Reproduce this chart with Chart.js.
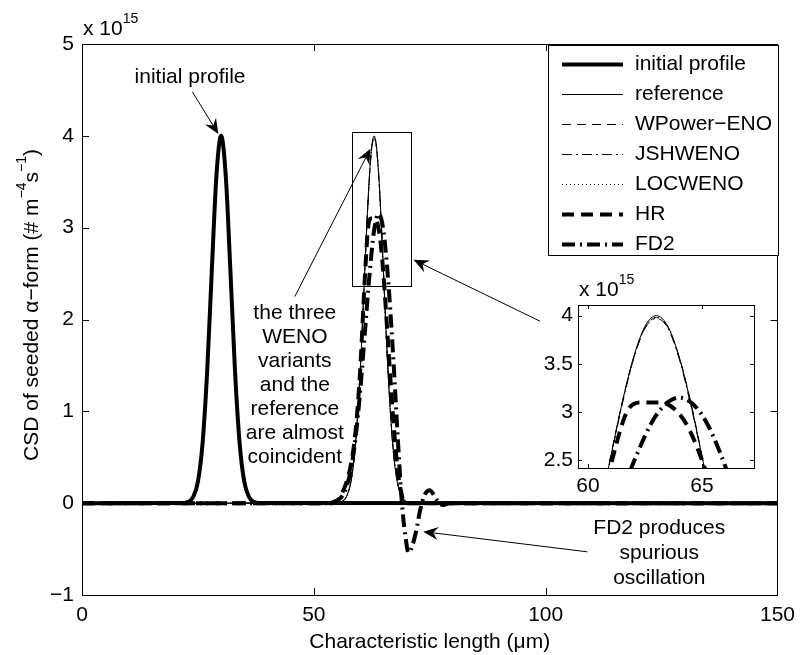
<!DOCTYPE html>
<html>
<head>
<meta charset="utf-8">
<script src="https://cdn.jsdelivr.net/npm/chart.js@4.4.0/dist/chart.umd.min.js"></script>
<style>
  html, body { margin: 0; padding: 0; background: #fff; }
  #wrap { position: relative; width: 803px; height: 655px; }
  #mainChart { position: absolute; left: 0; top: 0; }
  #insetChart { position: absolute; left: 540px; top: 270px; background: #fff; }
</style>
</head>
<body>
<div id="wrap">
  <canvas id="mainChart" width="803" height="655"></canvas>
  <canvas id="insetChart" width="230" height="225"></canvas>
</div>
<script>
// CSD values are in units of 1e15 (# m^-4 s^-1), x in micrometres
const xTicks = [0, 50, 100, 150];
const yTicks = [-1, 0, 1, 2, 3, 4, 5];
const insetXTicks = [60, 65];
const insetYTicks = [2.5, 3, 3.5, 4];

const seriesNames = ['initial profile', 'reference', 'WPower\u2212ENO', 'JSHWENO', 'LOCWENO', 'HR', 'FD2'];

const xInit = [0, 22, 23, 24, 25, 26, 27, 28, 29, 30, 31, 32, 33, 34, 35, 36, 37, 38, 150];
const yInit = [0, 0.003, 0.015, 0.07, 0.235, 0.65, 1.44, 2.54, 3.57, 4.0, 3.57, 2.54, 1.44, 0.65, 0.235, 0.07, 0.015, 0.003, 0];

// shared grid for the reference and the three WENO variants
const xPeak = [0, 54, 55, 56, 57, 58, 59, 60, 60.5, 61, 61.5, 62, 62.5, 63, 63.5, 64, 64.5, 65, 65.5, 66, 67, 68, 69, 70, 71, 72, 150];
const yRef = [0, 0, 0.003, 0.015, 0.07, 0.235, 0.65, 1.44, 1.97, 2.54, 3.10, 3.57, 3.89, 4.0, 3.89, 3.57, 3.10, 2.54, 1.97, 1.44, 0.65, 0.235, 0.07, 0.015, 0.003, 0, 0];
const yWPower = [0, 0, 0.004, 0.018, 0.075, 0.24, 0.66, 1.45, 1.98, 2.55, 3.10, 3.56, 3.87, 3.98, 3.88, 3.57, 3.11, 2.55, 1.98, 1.45, 0.66, 0.24, 0.075, 0.018, 0.004, 0, 0];
const yJSH = [0, 0, 0.002, 0.012, 0.065, 0.23, 0.64, 1.43, 1.96, 2.53, 3.08, 3.55, 3.87, 3.97, 3.87, 3.55, 3.08, 2.53, 1.96, 1.43, 0.64, 0.23, 0.065, 0.012, 0.002, 0, 0];
const yLOC = [0, 0, 0.003, 0.014, 0.068, 0.232, 0.645, 1.44, 1.97, 2.54, 3.09, 3.56, 3.88, 3.985, 3.885, 3.56, 3.09, 2.54, 1.97, 1.44, 0.645, 0.232, 0.068, 0.014, 0.003, 0, 0];

const xHR = [0, 54, 55, 56, 57, 58, 59, 60, 61, 61.7, 62.3, 63, 63.5, 64.3, 65, 66, 67, 68, 69, 70, 71, 150];
const yHR = [0, 0, 0.02, 0.1, 0.22, 0.42, 0.78, 1.45, 2.45, 3.0, 3.1, 3.1, 3.08, 2.88, 2.5, 1.75, 1.0, 0.4, 0.08, 0, 0, 0];

const xFD2 = [0, 53, 54, 55, 56, 57, 58, 59, 60, 61, 62, 63, 64, 65, 66, 67, 68, 69, 70, 70.4, 71, 72, 73, 74, 75, 76, 77, 78, 79, 150];
const yFD2 = [0, 0, 0.01, 0.03, 0.07, 0.17, 0.37, 0.71, 1.22, 1.85, 2.48, 2.97, 3.15, 2.97, 2.45, 1.7, 0.8, 0.0, -0.45, -0.54, -0.5, -0.32, -0.06, 0.1, 0.14, 0.08, 0.0, -0.02, 0, 0];

const seriesX = [xInit, xPeak, xPeak, xPeak, xPeak, xHR, xFD2];
const seriesY = [yInit, yRef, yWPower, yJSH, yLOC, yHR, yFD2];

// line styles, matlab-ish
const lineWidths = [4, 1, 1, 1, 1, 4, 4];
const lineDashes = [[], [], [9, 6], [10, 4, 2, 4], [1, 3], [12, 7], [13, 5, 2, 5]];

const fontFamily = '"Liberation Sans", Arial, Helvetica, sans-serif';
const font = { family: fontFamily, size: 21 };
const minus = v => (v < 0 ? '\u2212' + Math.abs(v) : '' + v);

function makeSets() {
  return seriesNames.map((name, i) => ({
    label: name,
    data: seriesX[i].map((x, j) => ({ x: x, y: seriesY[i][j] })),
    borderColor: '#000',
    borderWidth: lineWidths[i],
    borderDash: lineDashes[i],
    pointRadius: 0,
    fill: false,
    cubicInterpolationMode: 'monotone'
  }));
}

// box round the axes, with inward ticks on all four sides
const boxTicks = {
  id: 'boxTicks',
  afterDatasetsDraw(chart, args, opts) {
    const { ctx, chartArea: a, scales: { x, y } } = chart;
    const len = opts.len || 7;
    ctx.save();
    ctx.strokeStyle = '#000';
    ctx.lineWidth = 1;
    ctx.setLineDash([]);
    ctx.beginPath();
    x.ticks.forEach(t => {
      const px = Math.round(x.getPixelForValue(t.value)) + 0.5;
      ctx.moveTo(px, a.bottom); ctx.lineTo(px, a.bottom - len);
      ctx.moveTo(px, a.top); ctx.lineTo(px, a.top + len);
    });
    y.ticks.forEach(t => {
      const py = Math.round(y.getPixelForValue(t.value)) + 0.5;
      ctx.moveTo(a.left, py); ctx.lineTo(a.left + len, py);
      ctx.moveTo(a.right, py); ctx.lineTo(a.right - len, py);
    });
    ctx.stroke();
    ctx.strokeRect(Math.round(a.left) + 0.5, Math.round(a.top) + 0.5, Math.round(a.right - a.left), Math.round(a.bottom - a.top));
    ctx.restore();
  }
};

function drawParts(ctx, parts, x, y) {
  let cx = x;
  parts.forEach(p => {
    ctx.font = (p.sup ? 14 : 21) + 'px ' + fontFamily;
    ctx.fillText(p.t, cx, p.sup ? y - 10 : y);
    cx += ctx.measureText(p.t).width;
  });
}
function partsWidth(ctx, parts) {
  return parts.reduce((w, p) => {
    ctx.font = (p.sup ? 14 : 21) + 'px ' + fontFamily;
    return w + ctx.measureText(p.t).width;
  }, 0);
}

// "x 10^15" above the y axis
const exponentLabel = {
  id: 'exponentLabel',
  afterDraw(chart) {
    const { ctx, chartArea: a } = chart;
    ctx.save();
    ctx.fillStyle = '#000';
    ctx.textAlign = 'left';
    ctx.textBaseline = 'middle';
    drawParts(ctx, [{ t: 'x 10' }, { t: '15', sup: true }], a.left + 1, a.top - 15);
    ctx.restore();
  }
};

function arrowHead(ctx, tx, ty, ang) {
  const L = 15, W = 6.5, N = 10;
  const c = Math.cos(ang), s = Math.sin(ang);
  ctx.beginPath();
  ctx.moveTo(tx, ty);
  ctx.lineTo(tx - L * c - W * s, ty - L * s + W * c);
  ctx.lineTo(tx - N * c, ty - N * s);
  ctx.lineTo(tx - L * c + W * s, ty - L * s - W * c);
  ctx.closePath();
  ctx.fill();
}
function arrow(ctx, x1, y1, x2, y2, both) {
  const ang = Math.atan2(y2 - y1, x2 - x1);
  const c = Math.cos(ang), s = Math.sin(ang);
  ctx.beginPath();
  ctx.moveTo(both ? x1 + 10 * c : x1, both ? y1 + 10 * s : y1);
  ctx.lineTo(x2 - 10 * c, y2 - 10 * s);
  ctx.stroke();
  arrowHead(ctx, x2, y2, ang);
  if (both) arrowHead(ctx, x1, y1, ang + Math.PI);
}

// annotation positions in data units
const notes = [
  { lines: ['initial profile'], x: 23.3, y: 4.64 },
  { lines: ['the three', 'WENO', 'variants', 'and the', 'reference', 'are almost', 'coincident'], x: 45.9, y: 2.07, step: 24 },
  { lines: ['FD2 produces', 'spurious', 'oscillation'], x: 124.5, y: -0.27, step: 25 }
];
const arrows = [
  { from: [23.8, 4.48], to: [29.4, 4.02] },
  { from: [45.9, 2.25], to: [62.2, 3.86] },
  { from: [71.5, 2.65], to: [105.8, 1.81], both: true },
  { from: [109.0, -0.53], to: [73.6, -0.31] }
];
const zoomBox = { x0: 58.15, x1: 71.0, y0: 2.37, y1: 4.04 };

const annotations = {
  id: 'annotations',
  afterDatasetsDraw(chart) {
    const { ctx, scales: { x, y } } = chart;
    ctx.save();
    ctx.fillStyle = '#000';
    ctx.strokeStyle = '#000';
    ctx.lineWidth = 1;
    ctx.setLineDash([]);
    ctx.font = '21px ' + fontFamily;
    ctx.textAlign = 'center';
    ctx.textBaseline = 'middle';
    notes.forEach(n => {
      const px = x.getPixelForValue(n.x), py = y.getPixelForValue(n.y);
      n.lines.forEach((l, i) => ctx.fillText(l, px, py + i * (n.step || 24)));
    });
    arrows.forEach(a => arrow(ctx,
      x.getPixelForValue(a.from[0]), y.getPixelForValue(a.from[1]),
      x.getPixelForValue(a.to[0]), y.getPixelForValue(a.to[1]), a.both));
    const bx0 = Math.round(x.getPixelForValue(zoomBox.x0)) + 0.5;
    const bx1 = Math.round(x.getPixelForValue(zoomBox.x1)) + 0.5;
    const by0 = Math.round(y.getPixelForValue(zoomBox.y1)) + 0.5;
    const by1 = Math.round(y.getPixelForValue(zoomBox.y0)) + 0.5;
    ctx.strokeRect(bx0, by0, bx1 - bx0, by1 - by0);
    ctx.restore();
  }
};

// y axis title with superscripts
const yTitle = {
  id: 'yTitle',
  afterDraw(chart) {
    const { ctx } = chart;
    const parts = [{ t: 'CSD of seeded \u03b1\u2212form (# m' }, { t: '\u22124', sup: true }, { t: 's' }, { t: '\u22121', sup: true }, { t: ')' }];
    ctx.save();
    ctx.fillStyle = '#000';
    ctx.textAlign = 'left';
    ctx.textBaseline = 'middle';
    ctx.translate(32, 305);
    ctx.rotate(-Math.PI / 2);
    drawParts(ctx, parts, -partsWidth(ctx, parts) / 2, 0);
    ctx.restore();
  }
};

// legend box in the top right corner
const legendBox = {
  id: 'legendBox',
  afterDraw(chart) {
    const { ctx } = chart;
    const left = 548, top = 45, right = 778, bottom = 255;
    ctx.save();
    ctx.fillStyle = '#fff';
    ctx.fillRect(left, top, right - left, bottom - top);
    ctx.strokeStyle = '#000';
    ctx.lineWidth = 1;
    ctx.setLineDash([]);
    ctx.strokeRect(left + 0.5, top + 0.5, right - left, bottom - top);
    ctx.font = '21px ' + fontFamily;
    ctx.textAlign = 'left';
    ctx.textBaseline = 'middle';
    chart.data.datasets.forEach((ds, i) => {
      const ry = 64 + i * 30;
      ctx.beginPath();
      ctx.lineWidth = ds.borderWidth;
      ctx.setLineDash(ds.borderDash);
      ctx.moveTo(562, ry + 0.5);
      ctx.lineTo(623, ry + 0.5);
      ctx.stroke();
      ctx.setLineDash([]);
      ctx.fillStyle = '#000';
      ctx.fillText(ds.label, 635, ry);
    });
    ctx.restore();
  }
};

const mainChart = new Chart(document.getElementById('mainChart'), {
  type: 'line',
  data: { datasets: makeSets() },
  options: {
    responsive: false,
    animation: false,
    layout: { padding: { top: 44, right: 22, left: 0, bottom: 0 } },
    plugins: { legend: { display: false }, tooltip: { enabled: false }, boxTicks: { len: 7 } },
    scales: {
      x: {
        type: 'linear', min: 0, max: 150,
        afterBuildTicks: s => { s.ticks = xTicks.map(v => ({ value: v })); },
        afterFit: s => { s.height = 60; },
        grid: { display: false, drawTicks: false },
        border: { display: false },
        ticks: { color: '#000', font: font, padding: 8, maxRotation: 0, callback: minus },
        title: { display: true, text: 'Characteristic length (\u03bcm)', color: '#000', font: font, padding: 0 }
      },
      y: {
        type: 'linear', min: -1, max: 5,
        afterBuildTicks: s => { s.ticks = yTicks.map(v => ({ value: v })); },
        afterFit: s => { s.width = 82; },
        grid: { display: false, drawTicks: false },
        border: { display: false },
        ticks: { color: '#000', font: font, padding: 8, callback: minus }
      }
    }
  },
  plugins: [boxTicks, annotations, exponentLabel, yTitle, legendBox]
});

const insetChart = new Chart(document.getElementById('insetChart'), {
  type: 'line',
  data: { datasets: makeSets() },
  options: {
    responsive: false,
    animation: false,
    layout: { padding: { top: 35, right: 16, left: 0, bottom: 0 } },
    plugins: { legend: { display: false }, tooltip: { enabled: false }, boxTicks: { len: 4 } },
    scales: {
      x: {
        type: 'linear', min: 59.56, max: 67.28,
        afterBuildTicks: s => { s.ticks = insetXTicks.map(v => ({ value: v })); },
        afterFit: s => { s.height = 27; },
        grid: { display: false, drawTicks: false },
        border: { display: false },
        ticks: { color: '#000', font: font, padding: 6, maxRotation: 0, callback: v => String(v) }
      },
      y: {
        type: 'linear', min: 2.42, max: 4.11,
        afterBuildTicks: s => { s.ticks = insetYTicks.map(v => ({ value: v })); },
        afterFit: s => { s.width = 38; },
        grid: { display: false, drawTicks: false },
        border: { display: false },
        ticks: { color: '#000', font: font, padding: 5, callback: v => String(v) }
      }
    }
  },
  plugins: [boxTicks, exponentLabel]
});
</script>
</body>
</html>
